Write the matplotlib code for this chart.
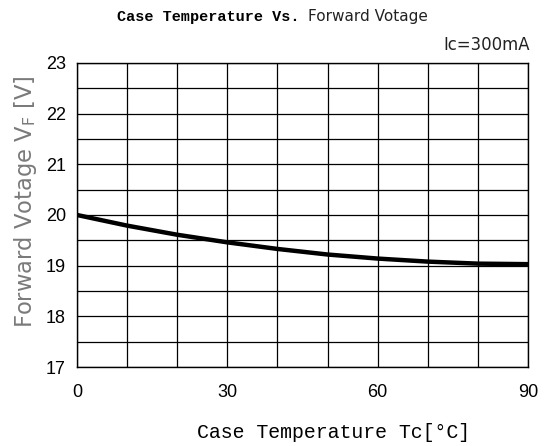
import matplotlib.pyplot as plt
import numpy as np
import matplotlib

matplotlib.rcParams['axes.unicode_minus'] = False

# data
temp_c = [0, 10, 20, 30, 40, 50, 60, 70, 80, 90]
vf_volt = [20.0, 19.79, 19.61, 19.46, 19.33, 19.22, 19.14, 19.08, 19.04, 19.03]
x_ticks = [0, 30, 60, 90]
y_ticks = [17, 18, 19, 20, 21, 22, 23]

fig = plt.figure(figsize=(5.48, 4.46), dpi=100)
ax = fig.add_axes([0.1405, 0.177, 0.823, 0.682])

ax.plot(temp_c, vf_volt, color='k', linewidth=3.2, solid_capstyle='butt', zorder=5)

ax.set_xlim(0, 90)
ax.set_ylim(17, 23)
ax.set_xticks(x_ticks)
ax.set_yticks(y_ticks)
ax.set_xticks(np.arange(0, 91, 10), minor=True)
ax.set_yticks(np.arange(17, 23.01, 0.5), minor=True)
ax.grid(which='both', color='k', linewidth=0.9)
ax.tick_params(which='both', length=0, labelsize=13)
ax.tick_params(axis='x', pad=12)
ax.tick_params(axis='y', pad=8)
for lbl in ax.get_xticklabels() + ax.get_yticklabels():
    lbl.set_family('Liberation Sans')
for s in ax.spines.values():
    s.set_linewidth(1.0)

# title: mixed fonts
fig.text(0.213, 0.962, 'Case Temperature Vs.', family='Liberation Mono', weight='bold',
         fontsize=10.9, ha='left', va='center')
fig.text(0.562, 0.962, 'Forward Votage', family='DejaVu Sans', fontsize=11,
         ha='left', va='center', color='#222222')
fig.text(0.967, 0.899, 'Ic=300mA', family='DejaVu Sans', fontsize=11.9,
         ha='right', va='center', color='#222222')

fig.text(0.608, 0.031, 'Case Temperature Tc[°C]', family='Liberation Mono',
         fontsize=14.3, ha='center', va='center')
fig.text(0.046, 0.548, 'Forward Votage V$_\\mathregular{F}$ [V]', family='DejaVu Sans',
         fontsize=16.3, rotation=90, ha='center', va='center', color='#7a7a7a')

plt.savefig('out.png', dpi=100)
plt.close()
